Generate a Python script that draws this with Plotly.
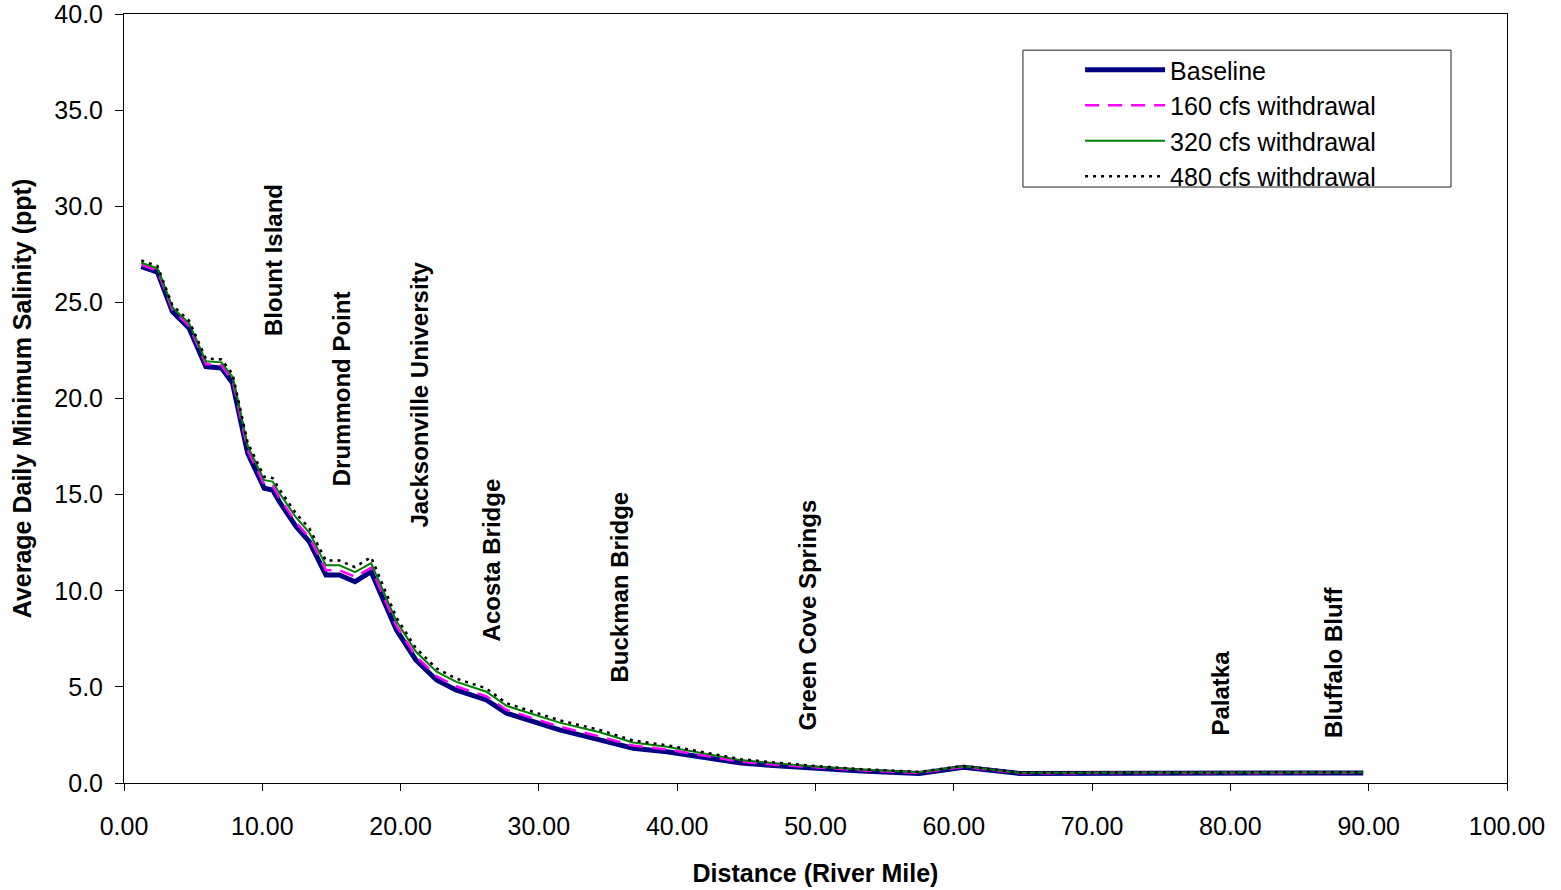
import plotly.graph_objects as go

# River mile positions
miles = [1.25, 2.42, 3.5, 4.71, 5.92, 7.05, 7.85, 8.94, 10.14, 10.75, 11.23, 12.44, 13.4, 14.6,
         15.58, 16.7, 17.87, 19.7, 21.1, 22.6, 24.0, 26.2, 27.66, 29.6, 31.5, 34.4, 36.8, 39.25,
         41.7, 44.6, 47.5, 50.4, 53.3, 57.5, 60.7, 64.7, 68.5, 72.5, 76.5, 80.5, 84.5, 89.6]

baseline = [26.86, 26.57, 24.52, 23.66, 21.66, 21.58, 20.80, 17.15, 15.33, 15.24, 14.64, 13.34, 12.55, 10.82,
            10.82, 10.47, 10.99, 7.96, 6.40, 5.36, 4.84, 4.32, 3.63, 3.19, 2.76, 2.24, 1.81, 1.63,
            1.37, 1.04, 0.88, 0.73, 0.62, 0.50, 0.82, 0.50, 0.50, 0.50, 0.50, 0.52, 0.52, 0.52]

cfs160 = [26.95, 26.66, 24.62, 23.77, 21.79, 21.72, 20.95, 17.32, 15.52, 15.44, 14.84, 13.55, 12.77, 11.07,
          11.07, 10.73, 11.19, 8.16, 6.60, 5.55, 5.03, 4.51, 3.80, 3.36, 2.93, 2.42, 1.95, 1.74,
          1.45, 1.11, 0.93, 0.78, 0.66, 0.53, 0.84, 0.51, 0.51, 0.51, 0.51, 0.53, 0.53, 0.53]

cfs320 = [27.06, 26.77, 24.74, 23.91, 21.94, 21.88, 21.12, 17.53, 15.75, 15.68, 15.09, 13.81, 13.03, 11.32,
          11.32, 10.97, 11.44, 8.41, 6.84, 5.79, 5.27, 4.75, 4.01, 3.56, 3.14, 2.64, 2.11, 1.88,
          1.55, 1.19, 1.00, 0.83, 0.70, 0.56, 0.87, 0.53, 0.53, 0.53, 0.53, 0.55, 0.55, 0.55]

cfs480 = [27.18, 26.89, 24.86, 24.04, 22.08, 22.03, 21.28, 17.71, 15.93, 15.86, 15.29, 14.02, 13.25, 11.57,
          11.57, 11.23, 11.75, 8.61, 7.02, 5.96, 5.44, 4.92, 4.15, 3.69, 3.26, 2.76, 2.21, 1.96,
          1.62, 1.24, 1.04, 0.86, 0.72, 0.58, 0.89, 0.54, 0.54, 0.54, 0.54, 0.56, 0.56, 0.56]

# Landmark labels
landmarks = ["Blount Island", "Drummond Point", "Jacksonville University", "Acosta Bridge",
             "Buckman Bridge", "Green Cove Springs", "Palatka", "Bluffalo Bluff"]
landmark_x = [10.85, 15.75, 21.3, 26.6, 35.8, 49.45, 79.25, 87.5]
landmark_y = [23.15, 15.35, 13.16, 7.28, 5.10, 2.65, 2.34, 2.24]

FONT = "Arial, Liberation Sans, sans-serif"

fig = go.Figure()
fig.add_trace(go.Scatter(x=miles, y=baseline, mode="lines", name="Baseline",
                         line=dict(color="#000080", width=5)))
fig.add_trace(go.Scatter(x=miles, y=cfs160, mode="lines", name="160 cfs withdrawal",
                         line=dict(color="#FF00FF", width=2.5, dash="14px,9px")))
fig.add_trace(go.Scatter(x=miles, y=cfs320, mode="lines", name="320 cfs withdrawal",
                         line=dict(color="#008000", width=2)))
fig.add_trace(go.Scatter(x=miles, y=cfs480, mode="lines", name="480 cfs withdrawal",
                         line=dict(color="#000000", width=2.5, dash="3px,5px")))

for t, x, y in zip(landmarks, landmark_x, landmark_y):
    fig.add_annotation(x=x, y=y, xref="x", yref="y", text="<b>" + t + "</b>", showarrow=False,
                       textangle=-90, xanchor="center", yanchor="bottom",
                       font=dict(family=FONT, size=24, color="black"))

# legend frame
fig.add_shape(type="rect", xref="paper", yref="paper", x0=0.650, x1=0.9595, y0=0.775, y1=0.953,
              line=dict(color="#202020", width=1), fillcolor="rgba(0,0,0,0)", layer="above")

fig.update_layout(
    width=1561, height=890,
    margin=dict(l=124, r=54, t=14, b=107),
    paper_bgcolor="white", plot_bgcolor="white",
    font=dict(family=FONT, size=25, color="black"),
    showlegend=True,
    legend=dict(x=0.6913, y=0.957, xanchor="left", yanchor="top",
                borderwidth=0, bgcolor="rgba(0,0,0,0)",
                font=dict(family=FONT, size=25), itemwidth=80, tracegroupgap=0),
    xaxis=dict(range=[0, 100], dtick=10, tickformat=".2f", showgrid=False, zeroline=False,
               showline=True, linecolor="black", linewidth=1, mirror=True,
               ticks="outside", ticklen=7, tickcolor="black", ticklabelstandoff=14,
               ticklabeloverflow="allow", automargin=False,
               title=dict(text="<b>Distance (River Mile)</b>", font=dict(size=25), standoff=25)),
    yaxis=dict(range=[0, 40], dtick=5, tickformat=".1f", showgrid=False, zeroline=False,
               showline=True, linecolor="black", linewidth=1, mirror=True,
               ticks="outside", ticklen=8, tickcolor="black", ticklabelstandoff=7,
               ticklabeloverflow="allow", automargin=False,
               title=dict(text="<b>Average Daily Minimum Salinity (ppt)</b>", font=dict(size=25), standoff=15)),
)

fig.write_html("out.html")
